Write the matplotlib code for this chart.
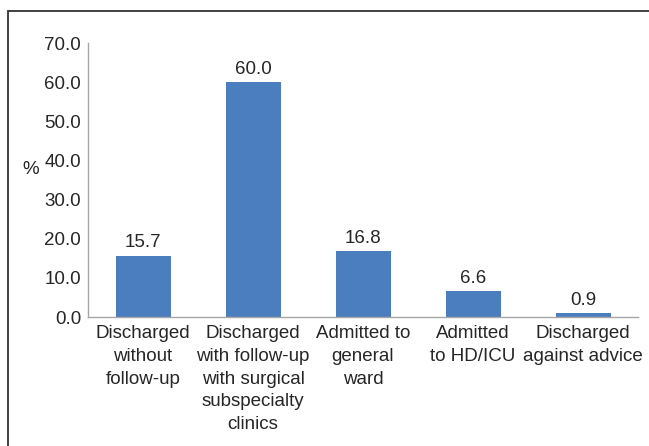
import matplotlib
matplotlib.use("Agg")
import matplotlib.pyplot as plt
from matplotlib.patches import Rectangle

categories = [
    "Discharged\nwithout\nfollow-up",
    "Discharged\nwith follow-up\nwith surgical\nsubspecialty\nclinics",
    "Admitted to\ngeneral\nward",
    "Admitted\nto HD/ICU",
    "Discharged\nagainst advice",
]
values = [15.7, 60.0, 16.8, 6.6, 0.9]
yticks = [0, 10, 20, 30, 40, 50, 60, 70]

plt.rcParams["font.family"] = ["Liberation Sans", "DejaVu Sans"]
text_color = "#262626"
bar_color = "#4a7ebf"
fs = 13.5

fig = plt.figure(figsize=(6.49, 4.46), dpi=100)
ax = fig.add_axes([88 / 649, 1 - 317 / 446, 550 / 649, 274 / 446])

x = range(len(values))
ax.bar(x, values, width=0.5, color=bar_color, zorder=2)

for xi, v in zip(x, values):
    ax.annotate(f"{v:.1f}", (xi, v), xytext=(0, 3), textcoords="offset points",
                ha="center", va="bottom", fontsize=fs, color=text_color)

ax.set_xlim(-0.5, len(values) - 0.5)
ax.set_ylim(0, 70)
ax.set_yticks(yticks)
ax.set_yticklabels([f"{t:.1f}" for t in yticks])
ax.set_xticks(list(x))
ax.set_xticklabels(categories, linespacing=1.43)
ax.tick_params(axis="both", length=0, labelsize=fs, colors=text_color)
ax.tick_params(axis="y", pad=5)
ax.tick_params(axis="x", pad=6)

for side in ("top", "right"):
    ax.spines[side].set_visible(False)
for side in ("left", "bottom"):
    ax.spines[side].set_color("#a6a6a6")
    ax.spines[side].set_linewidth(1.0)

fig.text(31 / 649, 1 - 170 / 446, "%", ha="center", va="center",
         fontsize=fs, color=text_color)

frame = Rectangle((8 / 649, -0.2), 1.2, 1.2 - 11 / 446, transform=fig.transFigure,
                  fill=False, edgecolor="#333333", linewidth=1.3, clip_on=False)
fig.add_artist(frame)

fig.savefig("out.png", dpi=100)
